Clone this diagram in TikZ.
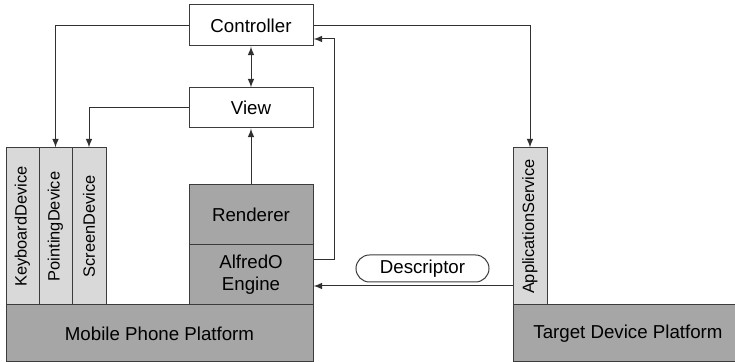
\documentclass[tikz,border=0pt]{standalone}
\usepackage{fontspec}
\setmainfont{Liberation Sans}
\definecolor{boxdark}{RGB}{166,166,166}
\definecolor{boxlight}{RGB}{217,217,217}
\definecolor{edge}{RGB}{60,60,60}
\begin{document}
\begin{tikzpicture}[x=0.5pt,y=-0.5pt,
  box/.style={draw=edge,line width=0.5pt,minimum width=62pt,inner sep=0pt,font=\fontsize{9.35}{11}\selectfont,align=center},
  dev/.style={draw=edge,fill=boxlight,line width=0.5pt,minimum width=78.5pt,minimum height=16.5pt,inner sep=0pt,rotate=90,font=\fontsize{8.2}{10}\selectfont},
  con/.style={draw=edge!80!black,line width=0.5pt,-latex}]
  \useasboundingbox (0,0) rectangle (735,362);

  \node[box,minimum height=20.5pt] (ctrl) at (251,25.5) {Controller};
  \node[box,minimum height=20pt] (view) at (251,108) {View};
  \node[box,fill=boxdark,minimum height=30pt] (rend) at (251,215) {Renderer};
  \node[box,fill=boxdark,minimum height=30pt] (engine) at (251,275) {AlfredO\\Engine};
  \node[box,fill=boxdark,minimum width=153.5pt,minimum height=28.5pt] (phone) at (159.5,333.5) {Mobile Phone Platform};
  \node[box,fill=boxdark,minimum width=115pt,minimum height=28.5pt] (target) at (628,333.5) {Target Device Platform};

  % device columns
  \node[dev] (kbd) at (22.5,226.5) {KeyboardDevice};
  \node[dev] (ptr) at (55.5,226.5) {PointingDevice};
  \node[dev,minimum height=17pt] (scr) at (89,226.5) {ScreenDevice};
  \node[dev,minimum height=17pt] (appsvc) at (530,226.5) {ApplicationService};

  \node[box,minimum width=66.5pt,minimum height=13.5pt,rounded corners=6.75pt] (desc) at (422.5,268.5) {Descriptor};

  \draw[con] (ctrl.west) -| (ptr.east);
  \draw[con] (view.west) -| (scr.east);
  \draw[con] (ctrl.east) -| (appsvc.east);
  \draw[con,latex-latex] (ctrl) -- (view);
  \draw[con] (rend) -- (view);
  \draw[con] ([yshift=7.5pt]engine.east) -- ++(21,0) |- ([yshift=-6.75pt]ctrl.east);
  \draw[con] ([yshift=-29.75pt]appsvc.north) -- ([yshift=-29.75pt]appsvc.north -| engine.east);
\end{tikzpicture}
\end{document}
